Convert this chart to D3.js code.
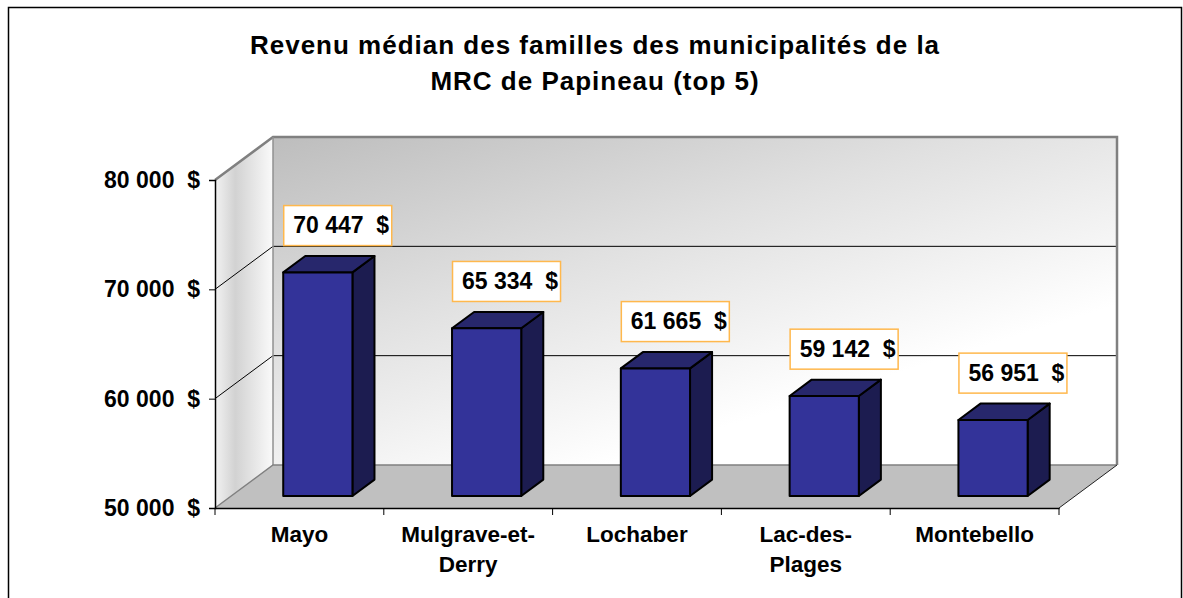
<!DOCTYPE html>
<html>
<head>
<meta charset="utf-8">
<script src="https://cdn.jsdelivr.net/npm/d3@7"></script>
<style>
  body { margin: 0; background: #fff; }
  text { font-family: "Liberation Sans", Arial, sans-serif; font-weight: bold; fill: #000; white-space: pre; }
</style>
</head>
<body>
<div id="chart"></div>
<script>
// data
var categories = ["Mayo", "Mulgrave-et-Derry", "Lochaber", "Lac-des-Plages", "Montebello"];
var catLines = [["Mayo"], ["Mulgrave-et-", "Derry"], ["Lochaber"], ["Lac-des-", "Plages"], ["Montebello"]];
var values = [70447, 65334, 61665, 59142, 56951];
var yTicks = [50000, 60000, 70000, 80000];
var titleLines = ["Revenu médian des familles des municipalités de la", "MRC de Papineau (top 5)"];

var W = 1183, H = 598;
var left = 215, right = 1059, floorY = 508, topY = 180;
var depthX = 58, depthY = 43;   // 3d offset of back wall
var d0 = 0.28, d1 = 0.66;       // bar depth range

var svg = d3.select("#chart").append("svg")
    .attr("width", W).attr("height", H);

var x = d3.scaleBand().domain(categories).range([left, right]);
var y = d3.scaleLinear().domain([50000, 80000]).range([floorY, topY]);

function fmt(v) { return d3.format(",")(v).replace(",", " ") + "  $"; }
function P(px, py, d) { return [px + d * depthX, py - d * depthY]; }

var defs = svg.append("defs");
var gBack = defs.append("linearGradient").attr("id", "gBack")
    .attr("x1", 0).attr("y1", 0).attr("x2", 0.8).attr("y2", 1);
gBack.append("stop").attr("offset", 0).attr("stop-color", "#bdbdbd");
gBack.append("stop").attr("offset", 0.4).attr("stop-color", "#e0e0e0");
gBack.append("stop").attr("offset", 0.8).attr("stop-color", "#ffffff");
var gLeft = defs.append("linearGradient").attr("id", "gLeft")
    .attr("x1", 0).attr("y1", 0).attr("x2", 1).attr("y2", 0);
gLeft.append("stop").attr("offset", 0).attr("stop-color", "#f2f2f2");
gLeft.append("stop").attr("offset", 0.35).attr("stop-color", "#d2d2d2");
gLeft.append("stop").attr("offset", 1).attr("stop-color", "#fafafa");

// outer frame
svg.append("rect").attr("x", 8.5).attr("y", 7.5).attr("width", 1173).attr("height", 620)
    .attr("fill", "#fff").attr("stroke", "#000").attr("stroke-width", 1.5);

// title
svg.append("g").selectAll("text").data(titleLines).enter().append("text")
    .attr("x", 595).attr("y", function(d, i) { return 54 + i * 36; })
    .attr("text-anchor", "middle").style("font-size", "26px").style("letter-spacing", "1px")
    .text(function(d) { return d; });

var line = d3.line();
var yMin = y(50000), yMax = y(80000);

// back wall
var bl = P(left, yMin, 1), tr = P(right, yMax, 1);
svg.append("rect").attr("x", bl[0]).attr("y", tr[1])
    .attr("width", tr[0] - bl[0]).attr("height", bl[1] - tr[1])
    .attr("fill", "url(#gBack)");

// left wall
svg.append("path")
    .attr("d", line([[left, yMin], [left, yMax], P(left, yMax, 1), P(left, yMin, 1)]) + "Z")
    .attr("fill", "url(#gLeft)");

// floor
svg.append("path")
    .attr("d", line([[left, yMin], P(left, yMin, 1), P(right, yMin, 1), [right, yMin]]) + "Z")
    .attr("fill", "#c0c0c0");

// gridlines
yTicks.slice(1, -1).forEach(function(t) {
    svg.append("path").attr("d", line([[left, y(t)], P(left, y(t), 1), P(right, y(t), 1)]))
        .attr("fill", "none").attr("stroke", "#000").attr("stroke-width", 1);
});

// wall outlines
svg.append("path")
    .attr("d", line([[left, yMax], P(left, yMax, 1), P(right, yMax, 1), P(right, yMin, 1)]))
    .attr("fill", "none").attr("stroke", "#808080").attr("stroke-width", 2.5);
svg.append("path")
    .attr("d", line([P(left, yMin, 1), P(left, yMax, 1)]))
    .attr("fill", "none").attr("stroke", "#909090").attr("stroke-width", 1.5);
svg.append("path")
    .attr("d", line([[left, yMin], P(left, yMin, 1), P(right, yMin, 1)]))
    .attr("fill", "none").attr("stroke", "#808080").attr("stroke-width", 1.5);
svg.append("path")
    .attr("d", line([[right, yMin], P(right, yMin, 1)]))
    .attr("fill", "none").attr("stroke", "#222").attr("stroke-width", 1);

// y axis
var yAxis = d3.axisLeft(y).tickValues(yTicks).tickSize(6).tickPadding(9).tickFormat(fmt);
var gy = svg.append("g").attr("transform", "translate(" + left + ",0)").call(yAxis);
gy.select(".domain").attr("stroke", "#000").attr("stroke-width", 1.5);
gy.selectAll(".tick line").attr("stroke", "#000");
gy.selectAll("text").style("font-size", "23px").attr("fill", "#000")
    .attr("font-family", null);

// x axis
var xAxis = d3.axisBottom(x).tickSize(0).tickFormat("");
var gx = svg.append("g").attr("transform", "translate(0," + floorY + ")").call(xAxis);
gx.select(".domain").attr("stroke", "#000").attr("stroke-width", 1.5);
gx.selectAll(".xt").data(categories.concat(["end"])).enter().append("line")
    .attr("x1", function(d, i) { return i < categories.length ? x(d) : right; })
    .attr("x2", function(d, i) { return i < categories.length ? x(d) : right; })
    .attr("y1", 0).attr("y2", 7).attr("stroke", "#000");

var labels = svg.append("g").selectAll("text").data(categories).enter().append("text")
    .attr("text-anchor", "middle").style("font-size", "22.5px")
    .attr("transform", function(d) { return "translate(" + (x(d) + x.bandwidth() / 2) + ",542)"; });
labels.selectAll("tspan").data(function(d, i) { return catLines[i]; }).enter().append("tspan")
    .attr("x", 0).attr("y", function(d, i) { return i * 30; })
    .text(function(d) { return d; });

// bars
var bw = x.bandwidth() * 0.41;
function barLeft(c) { return x(c) + x.bandwidth() * 0.308; }

var bars = svg.append("g").selectAll("g").data(categories).enter().append("g");
bars.append("path") // side
    .attr("d", function(c, i) {
        var xr = barLeft(c) + bw, v = values[i];
        return line([P(xr, yMin, d0), P(xr, y(v), d0), P(xr, y(v), d1), P(xr, yMin, d1)]) + "Z";
    })
    .attr("fill", "#1c1c50").attr("stroke", "#000").attr("stroke-width", 2).attr("stroke-linejoin", "round");
bars.append("path") // top
    .attr("d", function(c, i) {
        var xl = barLeft(c), v = values[i];
        return line([P(xl, y(v), d0), P(xl, y(v), d1), P(xl + bw, y(v), d1), P(xl + bw, y(v), d0)]) + "Z";
    })
    .attr("fill", "#27276c").attr("stroke", "#000").attr("stroke-width", 2).attr("stroke-linejoin", "round");
bars.append("path") // front
    .attr("d", function(c, i) {
        var xl = barLeft(c), v = values[i];
        return line([P(xl, yMin, d0), P(xl, y(v), d0), P(xl + bw, y(v), d0), P(xl + bw, yMin, d0)]) + "Z";
    })
    .attr("fill", "#333399").attr("stroke", "#000").attr("stroke-width", 2).attr("stroke-linejoin", "round");

// value labels
var lab = svg.append("g").selectAll("g").data(categories).enter().append("g")
    .attr("transform", function(c, i) {
        var p = P(barLeft(c), y(values[i]), d1);
        return "translate(" + P(barLeft(c), 0, d0)[0] + "," + (p[1] - 51) + ")";
    });
lab.append("rect").attr("x", 0.5).attr("y", 0.5).attr("width", 108).attr("height", 40)
    .attr("fill", "#fff").attr("stroke", "#ffb84d").attr("stroke-width", 1.5);
lab.append("text").attr("x", 10).attr("y", 28).style("font-size", "23px")
    .text(function(c, i) { return fmt(values[i]); });
</script>
</body>
</html>
